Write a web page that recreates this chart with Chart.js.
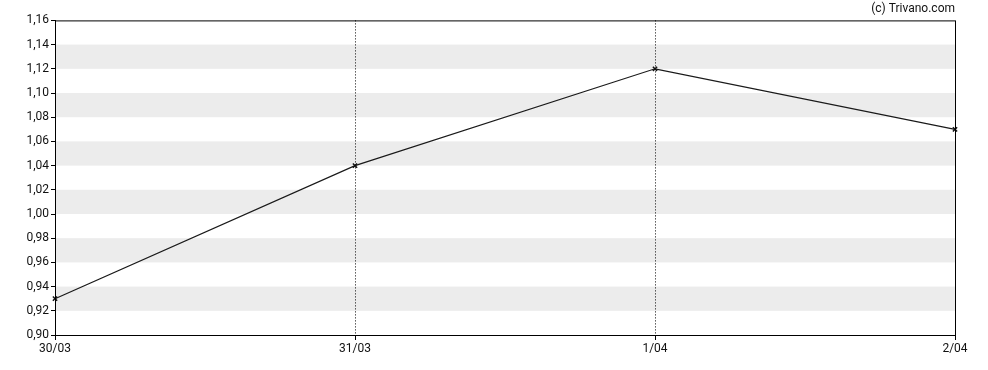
<!DOCTYPE html>
<html>
<head>
<meta charset="utf-8">
<script src="https://cdn.jsdelivr.net/npm/chart.js@4"></script>
<style>
  html, body { margin: 0; padding: 0; background: #fff; }
</style>
</head>
<body>
<canvas id="myChart" width="988" height="370"></canvas>
<script>
// chart data
const dates = ["30/03", "31/03", "1/04", "2/04"];
const prices = [0.93, 1.04, 1.12, 1.07];
const bandStarts = [0.92, 0.96, 1.00, 1.04, 1.08, 1.12];

// gray bands under grid, frame on top
const bandsPlugin = {
    id: 'bands',
    beforeDraw(chart) {
        const ctx = chart.ctx;
        const area = chart.chartArea;
        const y = chart.scales.y;
        ctx.save();
        ctx.fillStyle = '#ececec';
        bandStarts.forEach(function (v) {
            const top = y.getPixelForValue(v + 0.02);
            const bottom = y.getPixelForValue(v);
            ctx.fillRect(area.left, top, area.right - area.left, bottom - top);
        });
        ctx.restore();
    },
    afterDatasetsDraw(chart) {
        const ctx = chart.ctx;
        const area = chart.chartArea;
        ctx.save();
        ctx.strokeStyle = '#000';
        ctx.lineWidth = 1;
        ctx.strokeRect(area.left + 0.5, area.top + 0.5, area.right - area.left, area.bottom - area.top);
        ctx.restore();
    }
};

Chart.defaults.font.family = 'Roboto';
Chart.defaults.font.size = 12;
Chart.defaults.color = '#111';

const ctx = document.getElementById('myChart');

new Chart(ctx, {
    type: 'line',
    data: {
        labels: dates,
        datasets: [{
            data: prices,
            borderColor: '#1a1a1a',
            borderWidth: 1.2,
            pointStyle: 'crossRot',
            pointRadius: 3,
            pointBorderColor: '#111',
            pointBorderWidth: 1.5,
            tension: 0
        }]
    },
    options: {
        responsive: false,
        animation: false,
        layout: { padding: { top: 0, right: 33, left: 0, bottom: 0 } },
        plugins: {
            legend: { display: false },
            tooltip: { enabled: false },
            title: {
                display: true,
                text: '(c) Trivano.com',
                align: 'end',
                color: '#111',
                font: { size: 12, weight: 'normal' },
                padding: { top: 2, bottom: 4 }
            }
        },
        scales: {
            x: {
                offset: false,
                grid: {
                    color: function (c) {
                        return (c.index > 0 && c.index < dates.length - 1) ? '#000' : 'rgba(0,0,0,0)';
                    },
                    tickColor: '#000',
                    tickLength: 5,
                    lineWidth: 1
                },
                border: { color: '#000', dash: [1, 2] },
                ticks: { maxRotation: 0, padding: 2 },
                afterFit(scale) { scale.height = 35; }
            },
            y: {
                min: 0.9,
                max: 1.16,
                grid: {
                    drawOnChartArea: false,
                    tickColor: '#000',
                    tickLength: 4
                },
                border: { color: '#000' },
                ticks: {
                    stepSize: 0.02,
                    padding: 2,
                    callback: function (v) { return v.toFixed(2).replace('.', ','); }
                },
                afterFit(scale) { scale.width = 55; }
            }
        }
    },
    plugins: [bandsPlugin]
});
</script>
</body>
</html>
